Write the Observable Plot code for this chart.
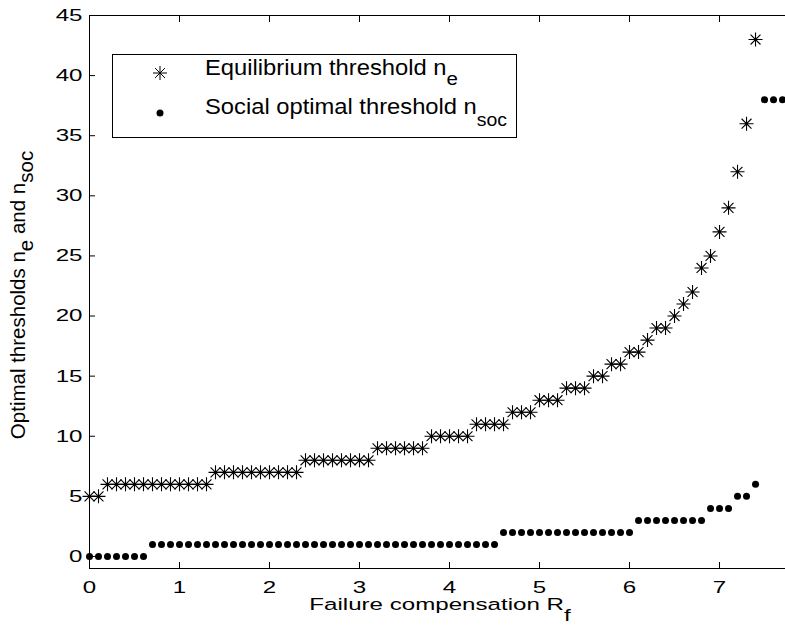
<!DOCTYPE html>
<html>
<head>
<meta charset="utf-8">
<script src="https://cdn.jsdelivr.net/npm/d3@7"></script>
<script src="https://cdn.jsdelivr.net/npm/@observablehq/plot@0.6"></script>
<style>
  html, body { margin: 0; padding: 0; background: #fff; }
  #chart { width: 785px; height: 628px; }
</style>
</head>
<body>
<div id="chart"></div>
<script>
// Failure compensation R_f (x values, step 0.1)
const compensation = [
  0.0, 0.1, 0.2, 0.3, 0.4, 0.5, 0.6, 0.7, 0.8, 0.9,
  1.0, 1.1, 1.2, 1.3, 1.4, 1.5, 1.6, 1.7, 1.8, 1.9,
  2.0, 2.1, 2.2, 2.3, 2.4, 2.5, 2.6, 2.7, 2.8, 2.9,
  3.0, 3.1, 3.2, 3.3, 3.4, 3.5, 3.6, 3.7, 3.8, 3.9,
  4.0, 4.1, 4.2, 4.3, 4.4, 4.5, 4.6, 4.7, 4.8, 4.9,
  5.0, 5.1, 5.2, 5.3, 5.4, 5.5, 5.6, 5.7, 5.8, 5.9,
  6.0, 6.1, 6.2, 6.3, 6.4, 6.5, 6.6, 6.7, 6.8, 6.9,
  7.0, 7.1, 7.2, 7.3, 7.4, 7.5, 7.6, 7.7
];

// Equilibrium threshold n_e (visible points, R_f = 0 .. 7.4)
const equilibriumThreshold = [
  5, 5, 6, 6, 6, 6, 6, 6, 6, 6,
  6, 6, 6, 6, 7, 7, 7, 7, 7, 7,
  7, 7, 7, 7, 8, 8, 8, 8, 8, 8,
  8, 8, 9, 9, 9, 9, 9, 9, 10, 10,
  10, 10, 10, 11, 11, 11, 11, 12, 12, 12,
  13, 13, 13, 14, 14, 14, 15, 15, 16, 16,
  17, 17, 18, 19, 19, 20, 21, 22, 24, 25,
  27, 29, 32, 36, 43
];

// Social optimal threshold n_soc (R_f = 0 .. 7.7)
const socialThreshold = [
  0, 0, 0, 0, 0, 0, 0, 1, 1, 1,
  1, 1, 1, 1, 1, 1, 1, 1, 1, 1,
  1, 1, 1, 1, 1, 1, 1, 1, 1, 1,
  1, 1, 1, 1, 1, 1, 1, 1, 1, 1,
  1, 1, 1, 1, 1, 1, 2, 2, 2, 2,
  2, 2, 2, 2, 2, 2, 2, 2, 2, 2,
  2, 3, 3, 3, 3, 3, 3, 3, 3, 4,
  4, 4, 5, 5, 6, 38, 38, 38
];

const xTicks = [0, 1, 2, 3, 4, 5, 6, 7];
const yTicks = [0, 5, 10, 15, 20, 25, 30, 35, 40, 45];
const xDomain = [0, 7.733];
const yDomain = [-1, 45];

const eqData = equilibriumThreshold.map((v, i) => ({x: compensation[i], y: v}));
const socData = socialThreshold.map((v, i) => ({x: compensation[i], y: v}));

// MATLAB-style '*' marker: 8 arms of equal length
const matlabStar = {
  draw(context, size) {
    const r = Math.sqrt(size / Math.PI);
    const d = r * Math.SQRT1_2;
    context.moveTo(-r, 0); context.lineTo(r, 0);
    context.moveTo(0, -r); context.lineTo(0, r);
    context.moveTo(-d, -d); context.lineTo(d, d);
    context.moveTo(-d, d); context.lineTo(d, -d);
  }
};

const blank = () => "";

const chart = Plot.plot({
  width: 785,
  height: 628,
  marginLeft: 89,
  marginRight: 0,
  marginTop: 15,
  marginBottom: 60,
  x: {domain: xDomain},
  y: {domain: yDomain},
  style: {fontFamily: "'Liberation Sans', Arial, sans-serif", fontSize: "17px", color: "black", background: "white"},
  marks: [
    Plot.ruleY([yDomain[0]], {stroke: "black", strokeWidth: 1}),
    Plot.ruleY([yDomain[1]], {stroke: "black", strokeWidth: 1}),
    Plot.ruleX([xDomain[0]], {stroke: "black", strokeWidth: 1}),
    Plot.axisX({ticks: xTicks, anchor: "bottom", tickSize: -6, tickFormat: blank, label: null}),
    Plot.axisX({ticks: xTicks, anchor: "top", tickSize: -6, tickFormat: blank, label: null}),
    Plot.axisX({ticks: xTicks, anchor: "bottom", tickSize: 0, tickPadding: 12, label: null}),
    Plot.axisY({ticks: yTicks, anchor: "left", tickSize: -6, tickFormat: blank, label: null}),
    Plot.axisY({ticks: yTicks, anchor: "left", tickSize: 0, tickPadding: 7, label: null}),
    Plot.dot(socData, {x: "x", y: "y", r: 3.5, fill: "black", stroke: "none"}),
    Plot.dot(eqData, {x: "x", y: "y", r: 7, symbol: matlabStar, fill: "none", stroke: "black", strokeWidth: 1.1})
  ]
});

// stretch the axis tick labels horizontally like the reference
chart.querySelectorAll("text").forEach(t => {
  const tr = t.getAttribute("transform") || "";
  t.setAttribute("transform", tr + " scale(1.42,1)");
});

const svg = d3.select(chart);
const FONT = "'Liberation Sans', Arial, sans-serif";

// x axis label with subscript
const xl = svg.append("text")
  .attr("transform", "translate(440,610) scale(1.42,1)")
  .attr("text-anchor", "middle")
  .attr("font-family", FONT).attr("font-size", 17).attr("fill", "black");
xl.append("tspan").text("Failure compensation R");
xl.append("tspan").attr("dy", 11).text("f");

// y axis label with subscripts
const yl = svg.append("text")
  .attr("transform", "translate(25,295) rotate(-90)")
  .attr("text-anchor", "middle")
  .attr("font-family", FONT).attr("font-size", 20.5).attr("fill", "black");
yl.append("tspan").text("Optimal thresholds n");
yl.append("tspan").attr("dy", 8).text("e");
yl.append("tspan").attr("dy", -8).text(" and n");
yl.append("tspan").attr("dy", 8).text("soc");

// legend
const lg = svg.append("g");
lg.append("rect").attr("x", 112.5).attr("y", 54.5).attr("width", 404).attr("height", 83)
  .attr("fill", "white").attr("stroke", "black").attr("stroke-width", 1);
const sr = 7, sd = sr * Math.SQRT1_2;
lg.append("path")
  .attr("transform", "translate(160,73)")
  .attr("d", `M${-sr},0L${sr},0M0,${-sr}L0,${sr}M${-sd},${-sd}L${sd},${sd}M${-sd},${sd}L${sd},${-sd}`)
  .attr("stroke", "black").attr("fill", "none");
lg.append("circle").attr("cx", 160).attr("cy", 113).attr("r", 3.5).attr("fill", "black");
const t1 = lg.append("text").attr("transform", "translate(205,75) scale(1.08,1)")
  .attr("text-anchor", "start")
  .attr("font-family", FONT).attr("font-size", 22).attr("fill", "black");
t1.append("tspan").text("Equilibrium threshold n");
t1.append("tspan").attr("dy", 10).attr("font-size", 19).text("e");
const t2 = lg.append("text").attr("transform", "translate(205,114) scale(1.08,1)")
  .attr("text-anchor", "start")
  .attr("font-family", FONT).attr("font-size", 22).attr("fill", "black");
t2.append("tspan").text("Social optimal threshold n");
t2.append("tspan").attr("dy", 12).attr("font-size", 18).text("soc");

document.getElementById("chart").appendChild(chart);
</script>
</body>
</html>
